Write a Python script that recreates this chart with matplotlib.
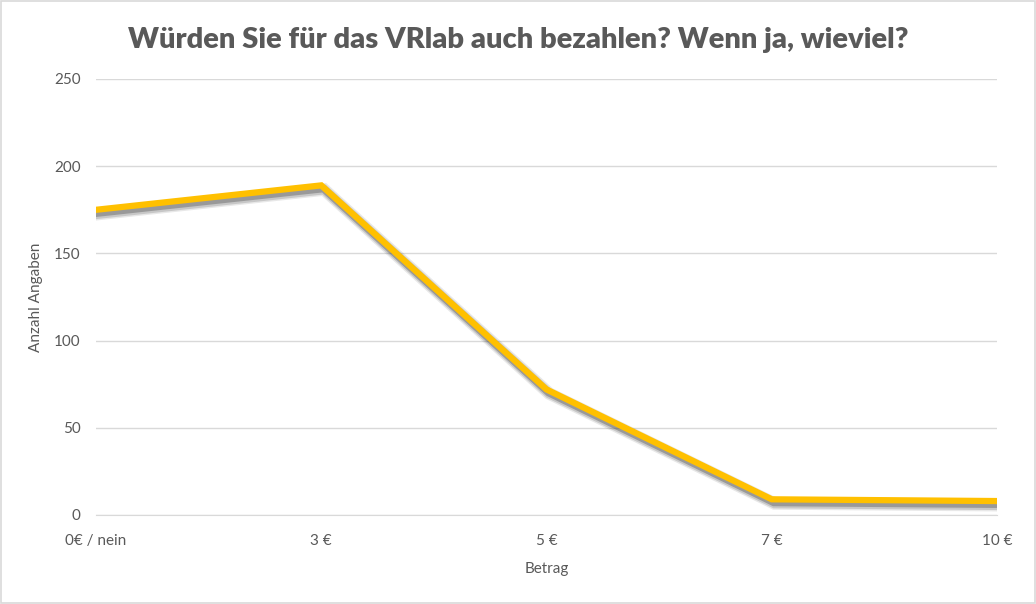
import matplotlib
matplotlib.use('Agg')
import matplotlib.pyplot as plt
import matplotlib.patheffects as pe

plt.rcParams['font.family'] = ['Lato', 'DejaVu Sans']

kategorien = ['0€ / nein', '3 €', '5 €', '7 €', '10 €']
anzahl = [175, 189, 72, 9, 8]

grau = '#595959'

fig = plt.figure(figsize=(10.36, 6.04), dpi=100)
ax = fig.add_axes([96 / 1036, 89 / 604, 901 / 1036, 436 / 604])

x = range(len(kategorien))
# weicher Schatten aus mehreren Lagen
schatten = [pe.SimpleLineShadow(offset=(2, -3), shadow_color='#444444', alpha=0.12, linewidth=9),
            pe.SimpleLineShadow(offset=(2, -3), shadow_color='#444444', alpha=0.2, linewidth=7),
            pe.SimpleLineShadow(offset=(1.5, -2.5), shadow_color='#444444', alpha=0.35, linewidth=5)]
ax.plot(x, anzahl, color='#FFC000', linewidth=4.5, solid_joinstyle='miter',
        path_effects=schatten + [pe.Normal()], zorder=3)

ax.set_xlim(0, len(kategorien) - 1)
ax.set_ylim(0, 250)
ax.set_yticks(range(0, 251, 50))
ax.set_xticks(list(x))
ax.set_xticklabels(kategorien)
ax.grid(axis='y', color='#d9d9d9', linewidth=1)
ax.set_axisbelow(True)
for s in ax.spines.values():
    s.set_visible(False)
ax.spines['bottom'].set_visible(True)
ax.spines['bottom'].set_color('#d9d9d9')
ax.tick_params(length=0, labelsize=11, colors=grau, pad=14)
ax.tick_params(axis='y', pad=11)

ax.set_xlabel('Betrag', fontsize=11, color=grau, labelpad=10)
ax.set_ylabel('Anzahl Angaben', fontsize=11, color=grau, labelpad=8)

fig.text(0.5, 1 - 40 / 604, 'Würden Sie für das VRlab auch bezahlen? Wenn ja, wieviel?',
         ha='center', va='center', fontsize=21, fontweight='heavy', color=grau)

fig.patches.append(plt.Rectangle((0.001, 0.001), 0.998, 0.997, transform=fig.transFigure,
                                 fill=False, edgecolor='#d9d9d9', linewidth=1.2))

fig.savefig('out.png', dpi=100)
